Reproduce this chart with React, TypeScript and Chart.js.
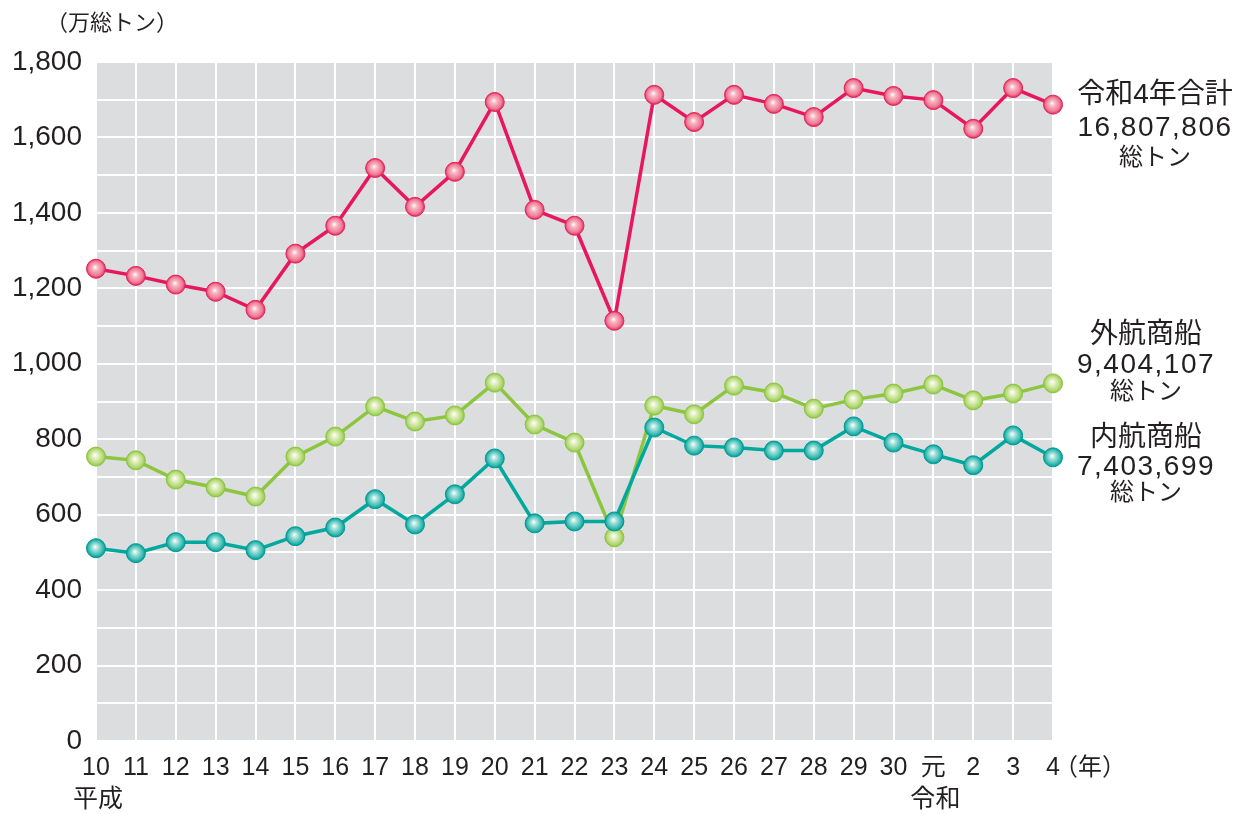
import React, { useEffect, useRef } from "react";
import { Chart, registerables } from "chart.js";

Chart.register(...registerables);

const categories = ["10", "11", "12", "13", "14", "15", "16", "17", "18", "19", "20", "21", "22", "23", "24", "25", "26", "27", "28", "29", "30", "元", "2", "3", "4"];

const totalValues = [1252, 1233, 1210, 1191, 1143, 1292, 1366, 1519, 1416, 1509, 1694, 1408, 1366, 1114, 1713, 1641, 1713, 1689, 1654, 1731, 1710, 1699, 1623, 1731, 1687];
const foreignValues = [754, 744, 693, 672, 648, 754, 807, 887, 847, 863, 950, 839, 791, 540, 889, 866, 942, 924, 881, 905, 921, 945, 903, 921, 948];
const domesticValues = [511, 498, 527, 527, 506, 543, 566, 641, 574, 654, 749, 577, 582, 582, 831, 783, 778, 770, 770, 834, 791, 760, 731, 810, 752];

const yTicks = [0, 200, 400, 600, 800, 1000, 1200, 1400, 1600, 1800];

const unitLabel = "（万総トン）";
const eraLabels = [
  { text: "平成", index: 0 },
  { text: "令和", index: 21 },
];
const yearUnit = "（年）";
const sideLabels = [
  { lines: ["令和4年合計", "16,807,806", "総トン"], ys: [95, 128, 158], x: 1155 },
  { lines: ["外航商船", "9,404,107", "総トン"], ys: [335, 365, 392], x: 1146 },
  { lines: ["内航商船", "7,403,699", "総トン"], ys: [438, 467, 493], x: 1146 },
];

const FONT = '"Liberation Sans", "Noto Sans CJK JP", sans-serif';

function sphere(light: string, base: string, rim: string) {
  return (ctx: any) => {
    const chart = ctx.chart;
    if (ctx.type !== "data" || !chart.scales || !chart.scales.x || !chart.scales.y) return base;
    const x = chart.scales.x.getPixelForValue(ctx.dataIndex);
    const y = chart.scales.y.getPixelForValue(ctx.raw);
    if (!Number.isFinite(x) || !Number.isFinite(y)) return base;
    const g = chart.ctx.createRadialGradient(x - 1, y - 1.5, 0, x, y, 9.5);
    g.addColorStop(0, "#ffffff");
    g.addColorStop(0.3, light);
    g.addColorStop(0.75, base);
    g.addColorStop(1, rim);
    return g;
  };
}

const bgPlugin = {
  id: "plotBg",
  beforeDraw(chart: any) {
    const { ctx, chartArea } = chart;
    ctx.save();
    ctx.fillStyle = "#dcdddf";
    ctx.fillRect(chartArea.left, chartArea.top, chartArea.right - chartArea.left, chartArea.bottom - chartArea.top);
    ctx.restore();
  },
};

const textPlugin = {
  id: "texts",
  afterDraw(chart: any) {
    const ctx = chart.ctx;
    const xs = chart.scales.x;
    ctx.save();
    ctx.fillStyle = "#231f20";
    ctx.textAlign = "center";
    ctx.textBaseline = "middle";
    ctx.font = `22px ${FONT}`;
    ctx.fillText(unitLabel, 112, 24);
    ctx.font = `25px ${FONT}`;
    eraLabels.forEach((e) => {
      const x = xs.getPixelForValue(e.index) + 2;
      ctx.fillText(e.text, x, 800);
    });
    ctx.font = `24px ${FONT}`;
    ctx.fillText(yearUnit, 1090, 768);
    sideLabels.forEach((s) => {
      s.lines.forEach((line, i) => {
        if (i === 1) {
          ctx.font = `28px ${FONT}`;
          (ctx as any).letterSpacing = "1.5px";
        } else if (i === 0) {
          ctx.font = `28px ${FONT}`;
          (ctx as any).letterSpacing = "0px";
        } else {
          ctx.font = `24px ${FONT}`;
          (ctx as any).letterSpacing = "0px";
        }
        ctx.fillText(line, s.x, s.ys[i]);
      });
    });
    (ctx as any).letterSpacing = "0px";
    ctx.restore();
  },
};

export default function App() {
  const ref = useRef<HTMLCanvasElement | null>(null);

  useEffect(() => {
    if (!ref.current) return;
    const chart = new Chart(ref.current, {
      type: "line",
      data: {
        labels: categories,
        datasets: [
          {
            label: "合計",
            data: totalValues,
            borderColor: "#e8175d",
            borderWidth: 3.5,
            pointRadius: 9.5,
            pointBorderWidth: 1,
            pointBorderColor: "#e2265a",
            pointBackgroundColor: sphere("#f7b5c2", "#f07a96", "#e2265a"),
            clip: false,
          },
          {
            label: "内航商船",
            data: domesticValues,
            borderColor: "#00a99d",
            borderWidth: 3.5,
            pointRadius: 9.5,
            pointBorderWidth: 1,
            pointBorderColor: "#009a95",
            pointBackgroundColor: sphere("#a8e2dc", "#3cbdb4", "#009a95"),
            clip: false,
          },
          {
            label: "外航商船",
            data: foreignValues,
            borderColor: "#8cc63f",
            borderWidth: 3.5,
            pointRadius: 9.5,
            pointBorderWidth: 1,
            pointBorderColor: "#8cc63f",
            pointBackgroundColor: sphere("#e3f0c2", "#b5da7a", "#8cc63f"),
            clip: false,
          },
        ],
      },
      options: {
        responsive: false,
        animation: false,
        devicePixelRatio: 1,
        layout: { padding: { top: 62, right: 183, left: 0, bottom: 0 } },
        plugins: {
          legend: { display: false },
          tooltip: { enabled: false },
        },
        scales: {
          x: {
            offset: false,
            afterFit: (s: any) => {
              s.height = 73;
            },
            grid: { color: "#ffffff", lineWidth: 2, drawTicks: false },
            border: { display: false },
            ticks: {
              color: "#231f20",
              font: { family: FONT, size: 25 },
              padding: 12,
              maxRotation: 0,
              autoSkip: false,
            },
          },
          y: {
            min: 0,
            max: 1800,
            afterFit: (s: any) => {
              s.width = 96;
            },
            grid: { color: "#ffffff", lineWidth: 2, drawTicks: false },
            border: { display: false },
            ticks: {
              stepSize: 100,
              color: "#231f20",
              font: { family: FONT, size: 28 },
              padding: 14,
              callback: (v: any) => (yTicks.includes(Number(v)) ? Number(v).toLocaleString("en-US") : ""),
            },
          },
        },
      },
      plugins: [bgPlugin, textPlugin],
    });
    return () => chart.destroy();
  }, []);

  return (
    <div style={{ position: "absolute", left: 0, top: 0, width: 1236, height: 814, background: "#ffffff" }}>
      <canvas ref={ref} width={1236} height={814} style={{ width: 1236, height: 814, display: "block" }} />
    </div>
  );
}
